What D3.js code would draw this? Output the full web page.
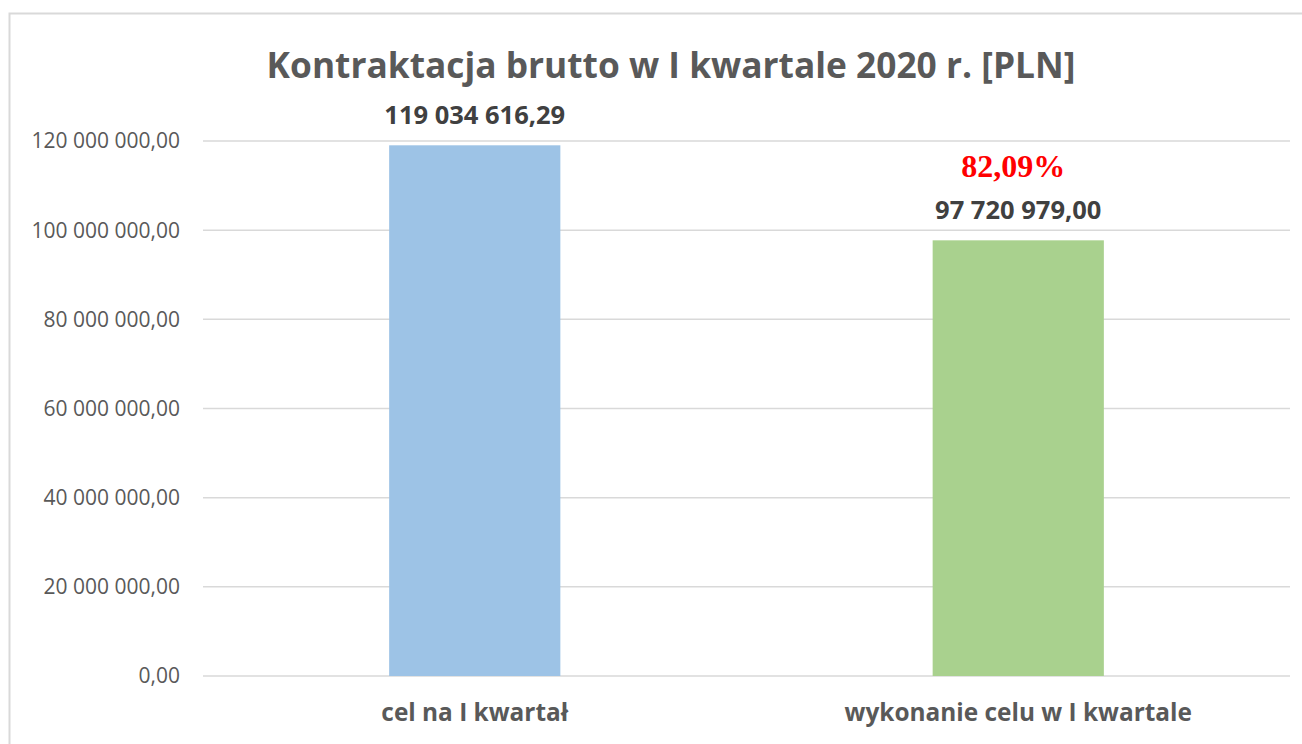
<!DOCTYPE html>
<html>
<head>
<meta charset="utf-8">
<script src="https://cdn.jsdelivr.net/npm/d3@7"></script>
<style>
  body { margin: 0; background: #fff; }
</style>
</head>
<body>
<div id="chart"></div>
<script>
const categories = ["cel na I kwartał", "wykonanie celu w I kwartale"];
const values = [119034616.29, 97720979.00];
const valueLabels = ["119 034 616,29", "97 720 979,00"];
const yTicks = [0, 20000000, 40000000, 60000000, 80000000, 100000000, 120000000];
const percentLabel = "82,09%";
const colors = ["#9dc3e6", "#a9d18e"];

const width = 1302, height = 744;
const margin = { top: 141, right: 12, bottom: 68, left: 203 };

const svg = d3.select("#chart")
  .append("svg")
    .attr("width", width)
    .attr("height", height);

// chart frame
svg.append("rect")
  .attr("x", 9.5).attr("y", 13.5)
  .attr("width", 1310).attr("height", 760)
  .attr("fill", "none")
  .attr("stroke", "#d9d9d9")
  .attr("stroke-width", 2);

const x = d3.scaleBand()
  .domain(categories)
  .range([margin.left, width - margin.right])
  .paddingInner(0.685)
  .paddingOuter(0.3425);

const y = d3.scaleLinear()
  .domain([0, 120000000])
  .range([height - margin.bottom, margin.top]);

const fmt = v => d3.format(",.2f")(v).replace(/,/g, " ").replace(".", ",");

// gridlines
svg.append("g")
  .selectAll("line")
  .data(yTicks)
  .join("line")
    .attr("x1", margin.left)
    .attr("x2", width - margin.right)
    .attr("y1", d => y(d))
    .attr("y2", d => y(d))
    .attr("stroke", "#d9d9d9")
    .attr("stroke-width", 1.5);

// y labels
svg.append("g")
  .selectAll("text")
  .data(yTicks)
  .join("text")
    .attr("x", 180)
    .attr("y", d => y(d))
    .attr("dy", "0.35em")
    .attr("text-anchor", "end")
    .attr("font-family", "'Open Sans', sans-serif")
    .attr("font-size", "21px")
    .attr("fill", "#595959")
    .text(fmt);

// bars
svg.append("g")
  .selectAll("rect")
  .data(values)
  .join("rect")
    .attr("x", (d, i) => x(categories[i]))
    .attr("y", d => y(d))
    .attr("width", x.bandwidth())
    .attr("height", d => y(0) - y(d))
    .attr("fill", (d, i) => colors[i]);

// value labels
svg.append("g")
  .selectAll("text")
  .data(values)
  .join("text")
    .attr("x", (d, i) => x(categories[i]) + x.bandwidth() / 2)
    .attr("y", d => y(d) - 21)
    .attr("text-anchor", "middle")
    .attr("font-family", "'Open Sans', sans-serif")
    .attr("font-weight", "bold")
    .attr("font-size", "25.5px")
    .attr("fill", "#404040")
    .text((d, i) => valueLabels[i]);

// percent label
svg.append("text")
  .attr("x", x(categories[1]) + x.bandwidth() / 2 - 5)
  .attr("y", y(values[1]) - 63)
  .attr("text-anchor", "middle")
  .attr("font-family", "'Liberation Serif', 'Times New Roman', serif")
  .attr("font-weight", "bold")
  .attr("font-size", "32px")
  .attr("fill", "#ff0000")
  .text(percentLabel);

// x labels
svg.append("g")
  .selectAll("text")
  .data(categories)
  .join("text")
    .attr("x", d => x(d) + x.bandwidth() / 2)
    .attr("y", 721)
    .attr("text-anchor", "middle")
    .attr("font-family", "'Open Sans', sans-serif")
    .attr("font-weight", "bold")
    .attr("font-size", "24.4px")
    .attr("fill", "#595959")
    .text(d => d);

// title
svg.append("text")
  .attr("x", 671)
  .attr("y", 78)
  .attr("text-anchor", "middle")
  .attr("font-family", "'Open Sans', sans-serif")
  .attr("font-weight", "bold")
  .attr("font-size", "35.3px")
  .attr("fill", "#595959")
  .text("Kontraktacja brutto w I kwartale 2020 r. [PLN]");
</script>
</body>
</html>
